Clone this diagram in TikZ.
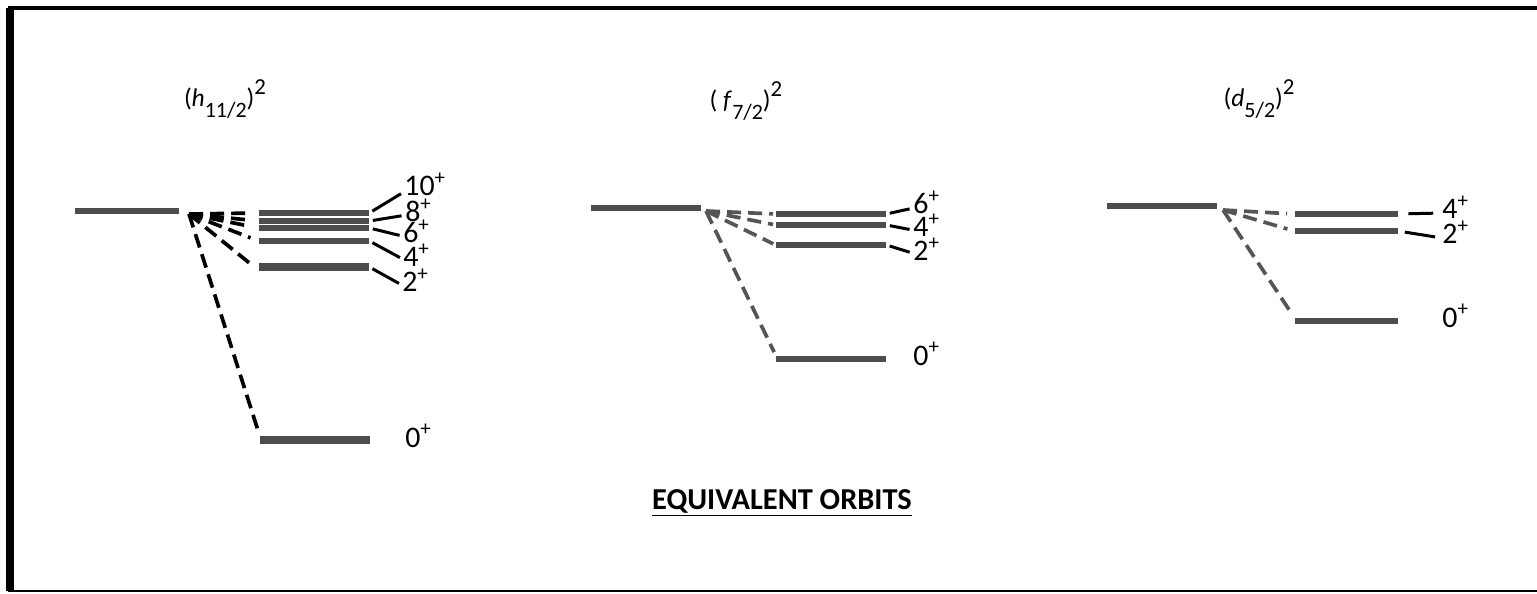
\documentclass[tikz,border=0pt]{standalone}
\usepackage{fontspec}
\setmainfont{Carlito}
\usepackage{tikz}
\usetikzlibrary{positioning}

\definecolor{bargray}{HTML}{4D4D4D}
\definecolor{dashgray}{HTML}{555555}
\newcommand{\jp}[1]{#1\textsuperscript{+}}
\newcommand{\orb}[2]{#1\raisebox{-5.7pt}{\fontsize{12.5}{14}\selectfont #2})\raisebox{7pt}{\fontsize{13}{15}\selectfont 2}}

\begin{document}
\begin{tikzpicture}[x=0.02cm, y=-0.02cm,
        every node/.style={font=\fontsize{17}{20}\selectfont},
        bar/.style={fill=bargray, inner sep=0pt, minimum width=2.2cm, minimum height=3.8pt},
        fan/.style={dash pattern=on 8pt off 4pt, line width=2.1pt, shorten >=5pt},
        tick/.style={line width=1.7pt, shorten <=2pt, shorten >=2pt},
        tag/.style={anchor=base west, inner sep=0pt},
        orbit/.style={anchor=base, inner sep=0pt, font=\fontsize{14.5}{17}\selectfont}
    ]
        \useasboundingbox (0,0) rectangle (1537,594);
        \draw[line width=4pt] (10,8) -- (10,591);
        \draw[line width=2.8pt] (8,8) -- (1537,8);
        \draw[line width=1.6pt] (8,591) -- (1537,591);

        \node[orbit] (h-title) at (225,107) {\orb{(\textit{h}}{11/2}};
        \node[orbit] (f-title) at (746,109) {\orb{( \textit{f}}{7/2}};
        \node[orbit] (d-title) at (1259,107) {\orb{(\textit{d}}{5/2}};

        \node[bar, minimum width=2.1cm] (h-init) at (127,211) {};
        \coordinate (h-fan) at (189,214);
        \node[bar, minimum height=3pt] (h10) at (314,213) {};
        \node[bar, minimum height=3pt] (h8) at (314,221) {};
        \node[bar, minimum height=3pt] (h6) at (314,228) {};
        \node[bar] (h4) at (314,241) {};
        \node[bar, minimum height=4.5pt] (h2) at (314,267) {};
        \node[bar, minimum height=4.5pt] (h0) at (315,440) {};
        \node[tag] (h10-tag) at (404,196) {\jp{10}};
        \node[tag] (h8-tag) at (405,222) {\jp{8}};
        \node[tag] (h6-tag) at (403,243) {\jp{6}};
        \node[tag] (h4-tag) at (403,267) {\jp{4}};
        \node[tag] (h2-tag) at (402,292) {\jp{2}};
        \node[tag] (h0-tag) at (405,447) {\jp{0}};

        \draw[fan] (h-fan) -- (h10.west);
        \draw[fan] (h-fan) -- (h8.west);
        \draw[fan] (h-fan) -- (h6.west);
        \draw[fan] (h-fan) -- (h4.west);
        \draw[fan] (h-fan) -- ([yshift=-2pt]h2.west);
        \draw[fan, shorten >=2pt] (h-fan) -- (h0.north west);
        \draw[tick] (h10.east) -- ([yshift=-4pt]h10-tag.west);
        \draw[tick] (h8.east) -- ([yshift=-2.5pt]h8-tag.west);
        \draw[tick] (h6.east) -- ([yshift=-2.5pt]h6-tag.west);
        \draw[tick] (h4.east) -- ([yshift=-2pt]h4-tag.west);
        \draw[tick] (h2.east) -- ([yshift=-2.5pt]h2-tag.west);

        \node[bar] (f-init) at (646,208) {};
        \coordinate (f-fan) at (706,211);
        \node[bar] (f6) at (831,214) {};
        \node[bar] (f4) at (831,225) {};
        \node[bar] (f2) at (831,245) {};
        \node[bar] (f0) at (831,359) {};
        \node[tag] (f6-tag) at (913,214) {\jp{6}};
        \node[tag] (f4-tag) at (913,237) {\jp{4}};
        \node[tag] (f2-tag) at (913,261) {\jp{2}};
        \node[tag] (f0-tag) at (913,365) {\jp{0}};

        \draw[fan, dashgray, shorten >=1.5pt] (f-fan) -- (f6.west);
        \draw[fan, dashgray, shorten >=1.5pt] (f-fan) -- (f4.west);
        \draw[fan, dashgray, shorten >=1.5pt] (f-fan) -- (f2.west);
        \draw[fan, dashgray, shorten >=2pt] (f-fan) -- (f0.north west);
        \draw[tick] (f6.east) -- ([yshift=-3pt]f6-tag.west);
        \draw[tick] (f4.east) -- ([yshift=-2.5pt]f4-tag.west);
        \draw[tick] (f2.east) -- ([yshift=-2pt]f2-tag.west);

        \node[bar] (d-init) at (1162,206) {};
        \coordinate (d-fan) at (1223,210);
        \node[bar, minimum width=2.06cm] (d4) at (1346,214) {};
        \node[bar, minimum width=2.06cm] (d2) at (1346,231) {};
        \node[bar, minimum width=2.06cm] (d0) at (1346,321) {};
        \node[tag] (d4-tag) at (1442,219) {\jp{4}};
        \node[tag] (d2-tag) at (1442,244) {\jp{2}};
        \node[tag] (d0-tag) at (1442,327) {\jp{0}};

        \draw[fan, dashgray, shorten >=4pt] (d-fan) -- (d4.west);
        \draw[fan, dashgray, shorten >=4pt] (d-fan) -- (d2.west);
        \draw[fan, dashgray, shorten >=3pt] (d-fan) -- (d0.north west);
        \draw[tick, shorten <=6pt, shorten >=5pt] (d4.east) -- ([yshift=-3pt]d4-tag.west);
        \draw[tick, shorten <=4pt, shorten >=4pt] (d2.east) -- ([yshift=-3pt]d2-tag.west);

        \node[anchor=base, font=\bfseries\fontsize{17.3}{20}\selectfont] (caption) at (782,509) {\underline{EQUIVALENT ORBITS}};
    \end{tikzpicture}
\end{document}
